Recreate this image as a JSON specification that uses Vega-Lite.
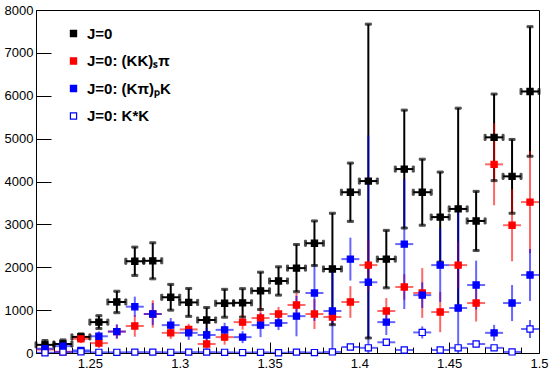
{
  "$schema": "https://vega.github.io/schema/vega-lite/v6.json",
  "width": 503,
  "height": 343,
  "autosize": {"type": "none"},
  "padding": {"left": 36, "top": 10, "right": 10, "bottom": 17},
  "background": "white",
  "config": {
    "view": {"stroke": "black", "strokeWidth": 1},
    "font": "Liberation Sans",
    "axis": {"grid": false, "domainColor": "black", "tickColor": "black", "labelColor": "black", "labelFont": "Liberation Sans", "labelFontSize": 13, "title": null},
    "axisY": {
      "values": [0,200,400,600,800,1000,1200,1400,1600,1800,2000,2200,2400,2600,2800,3000,3200,3400,3600,3800,4000,4200,4400,4600,4800,5000,5200,5400,5600,5800,6000,6200,6400,6600,6800,7000,7200,7400,7600,7800,8000],
      "format": "d",
      "labelExpr": "datum.value % 1000 === 0 ? datum.label : ''",
      "tickSize": {"condition": {"test": "datum.value % 1000 === 0", "value": -15}, "value": -8},
      "labelOverlap": false, "labelFlush": false, "labelBound": false,
      "labelPadding": 18
    },
    "legend": {"title": null, "orient": "none", "legendX": 30, "legendY": 16, "symbolType": "square", "symbolSize": 38, "symbolStrokeWidth": 1.2, "labelFont": "Liberation Sans", "labelFontWeight": "bold", "labelFontSize": 15, "labelColor": "black", "rowPadding": 11.5, "labelOffset": 6, "padding": 0, "labelLimit": 300}
  },
  "data": {"values": [
    {"s":"J=0","x":1.225,"xl":1.22,"xh":1.23,"v":190,"lo":90,"hi":290},
    {"s":"J=0","x":1.235,"xl":1.23,"xh":1.24,"v":210,"lo":115,"hi":305},
    {"s":"J=0","x":1.245,"xl":1.24,"xh":1.25,"v":375,"lo":305,"hi":445},
    {"s":"J=0","x":1.255,"xl":1.25,"xh":1.26,"v":720,"lo":570,"hi":870},
    {"s":"J=0","x":1.265,"xl":1.26,"xh":1.27,"v":1190,"lo":940,"hi":1440},
    {"s":"J=0","x":1.275,"xl":1.27,"xh":1.28,"v":2140,"lo":1810,"hi":2470},
    {"s":"J=0","x":1.285,"xl":1.28,"xh":1.29,"v":2150,"lo":1730,"hi":2570},
    {"s":"J=0","x":1.295,"xl":1.29,"xh":1.30,"v":1300,"lo":1000,"hi":1600},
    {"s":"J=0","x":1.305,"xl":1.30,"xh":1.31,"v":1180,"lo":855,"hi":1505},
    {"s":"J=0","x":1.315,"xl":1.31,"xh":1.32,"v":770,"lo":480,"hi":1060},
    {"s":"J=0","x":1.325,"xl":1.32,"xh":1.33,"v":1160,"lo":835,"hi":1485},
    {"s":"J=0","x":1.335,"xl":1.33,"xh":1.34,"v":1170,"lo":840,"hi":1500},
    {"s":"J=0","x":1.345,"xl":1.34,"xh":1.35,"v":1450,"lo":1015,"hi":1885},
    {"s":"J=0","x":1.355,"xl":1.35,"xh":1.36,"v":1680,"lo":1350,"hi":2010},
    {"s":"J=0","x":1.365,"xl":1.36,"xh":1.37,"v":1980,"lo":1430,"hi":2530},
    {"s":"J=0","x":1.375,"xl":1.37,"xh":1.38,"v":2560,"lo":2040,"hi":3080},
    {"s":"J=0","x":1.385,"xl":1.38,"xh":1.39,"v":1960,"lo":660,"hi":3260},
    {"s":"J=0","x":1.395,"xl":1.39,"xh":1.40,"v":3750,"lo":3070,"hi":4430},
    {"s":"J=0","x":1.405,"xl":1.40,"xh":1.41,"v":4010,"lo":350,"hi":7670},
    {"s":"J=0","x":1.415,"xl":1.41,"xh":1.42,"v":2190,"lo":1520,"hi":2860},
    {"s":"J=0","x":1.425,"xl":1.42,"xh":1.43,"v":4290,"lo":2915,"hi":5665},
    {"s":"J=0","x":1.435,"xl":1.43,"xh":1.44,"v":3750,"lo":2980,"hi":4520},
    {"s":"J=0","x":1.445,"xl":1.44,"xh":1.45,"v":3170,"lo":2120,"hi":4220},
    {"s":"J=0","x":1.455,"xl":1.45,"xh":1.46,"v":3360,"lo":1010,"hi":5710},
    {"s":"J=0","x":1.465,"xl":1.46,"xh":1.47,"v":3080,"lo":2390,"hi":3770},
    {"s":"J=0","x":1.475,"xl":1.47,"xh":1.48,"v":5030,"lo":4020,"hi":6040},
    {"s":"J=0","x":1.485,"xl":1.48,"xh":1.49,"v":4120,"lo":3260,"hi":4980},
    {"s":"J=0","x":1.495,"xl":1.49,"xh":1.50,"v":6100,"lo":4590,"hi":7610},

    {"s":"J=0: (KK)ₛπ","x":1.225,"xl":1.22,"xh":1.23,"v":80,"lo":40,"hi":120},
    {"s":"J=0: (KK)ₛπ","x":1.235,"xl":1.23,"xh":1.24,"v":30,"lo":0,"hi":90},
    {"s":"J=0: (KK)ₛπ","x":1.245,"xl":1.24,"xh":1.25,"v":330,"lo":230,"hi":430},
    {"s":"J=0: (KK)ₛπ","x":1.255,"xl":1.25,"xh":1.26,"v":230,"lo":115,"hi":345},
    {"s":"J=0: (KK)ₛπ","x":1.265,"xl":1.26,"xh":1.27,"v":500,"lo":335,"hi":665},
    {"s":"J=0: (KK)ₛπ","x":1.275,"xl":1.27,"xh":1.28,"v":630,"lo":380,"hi":880},
    {"s":"J=0: (KK)ₛπ","x":1.285,"xl":1.28,"xh":1.29,"v":910,"lo":590,"hi":1230},
    {"s":"J=0: (KK)ₛπ","x":1.295,"xl":1.29,"xh":1.30,"v":470,"lo":330,"hi":610},
    {"s":"J=0: (KK)ₛπ","x":1.305,"xl":1.30,"xh":1.31,"v":550,"lo":420,"hi":680},
    {"s":"J=0: (KK)ₛπ","x":1.315,"xl":1.31,"xh":1.32,"v":210,"lo":70,"hi":350},
    {"s":"J=0: (KK)ₛπ","x":1.325,"xl":1.32,"xh":1.33,"v":370,"lo":195,"hi":545},
    {"s":"J=0: (KK)ₛπ","x":1.335,"xl":1.33,"xh":1.34,"v":720,"lo":545,"hi":895},
    {"s":"J=0: (KK)ₛπ","x":1.345,"xl":1.34,"xh":1.35,"v":815,"lo":560,"hi":1070},
    {"s":"J=0: (KK)ₛπ","x":1.355,"xl":1.35,"xh":1.36,"v":910,"lo":745,"hi":1075},
    {"s":"J=0: (KK)ₛπ","x":1.365,"xl":1.36,"xh":1.37,"v":1120,"lo":840,"hi":1400},
    {"s":"J=0: (KK)ₛπ","x":1.375,"xl":1.37,"xh":1.38,"v":910,"lo":560,"hi":1260},
    {"s":"J=0: (KK)ₛπ","x":1.385,"xl":1.38,"xh":1.39,"v":840,"lo":650,"hi":1030},
    {"s":"J=0: (KK)ₛπ","x":1.395,"xl":1.39,"xh":1.40,"v":1190,"lo":820,"hi":1560},
    {"s":"J=0: (KK)ₛπ","x":1.405,"xl":1.40,"xh":1.41,"v":2050,"lo":1450,"hi":2650},
    {"s":"J=0: (KK)ₛπ","x":1.415,"xl":1.41,"xh":1.42,"v":980,"lo":680,"hi":1280},
    {"s":"J=0: (KK)ₛπ","x":1.425,"xl":1.42,"xh":1.43,"v":1540,"lo":1240,"hi":1840},
    {"s":"J=0: (KK)ₛπ","x":1.435,"xl":1.43,"xh":1.44,"v":1400,"lo":820,"hi":1980},
    {"s":"J=0: (KK)ₛπ","x":1.445,"xl":1.44,"xh":1.45,"v":955,"lo":485,"hi":1425},
    {"s":"J=0: (KK)ₛπ","x":1.455,"xl":1.45,"xh":1.46,"v":2050,"lo":1500,"hi":2600},
    {"s":"J=0: (KK)ₛπ","x":1.465,"xl":1.46,"xh":1.47,"v":1165,"lo":735,"hi":1595},
    {"s":"J=0: (KK)ₛπ","x":1.475,"xl":1.47,"xh":1.48,"v":4400,"lo":3445,"hi":5355},
    {"s":"J=0: (KK)ₛπ","x":1.485,"xl":1.48,"xh":1.49,"v":2980,"lo":2140,"hi":3820},
    {"s":"J=0: (KK)ₛπ","x":1.495,"xl":1.49,"xh":1.50,"v":3520,"lo":2330,"hi":4710},

    {"s":"J=0: (Kπ)ₚK","x":1.225,"xl":1.22,"xh":1.23,"v":100,"lo":30,"hi":170},
    {"s":"J=0: (Kπ)ₚK","x":1.235,"xl":1.23,"xh":1.24,"v":160,"lo":90,"hi":230},
    {"s":"J=0: (Kπ)ₚK","x":1.245,"xl":1.24,"xh":1.25,"v":60,"lo":0,"hi":120},
    {"s":"J=0: (Kπ)ₚK","x":1.255,"xl":1.25,"xh":1.26,"v":390,"lo":275,"hi":505},
    {"s":"J=0: (Kπ)ₚK","x":1.265,"xl":1.26,"xh":1.27,"v":500,"lo":335,"hi":665},
    {"s":"J=0: (Kπ)ₚK","x":1.275,"xl":1.27,"xh":1.28,"v":1080,"lo":845,"hi":1315},
    {"s":"J=0: (Kπ)ₚK","x":1.285,"xl":1.28,"xh":1.29,"v":910,"lo":655,"hi":1165},
    {"s":"J=0: (Kπ)ₚK","x":1.295,"xl":1.29,"xh":1.30,"v":650,"lo":485,"hi":815},
    {"s":"J=0: (Kπ)ₚK","x":1.305,"xl":1.30,"xh":1.31,"v":470,"lo":305,"hi":635},
    {"s":"J=0: (Kπ)ₚK","x":1.315,"xl":1.31,"xh":1.32,"v":420,"lo":255,"hi":585},
    {"s":"J=0: (Kπ)ₚK","x":1.325,"xl":1.32,"xh":1.33,"v":540,"lo":375,"hi":705},
    {"s":"J=0: (Kπ)ₚK","x":1.335,"xl":1.33,"xh":1.34,"v":370,"lo":230,"hi":510},
    {"s":"J=0: (Kπ)ₚK","x":1.345,"xl":1.34,"xh":1.35,"v":650,"lo":370,"hi":930},
    {"s":"J=0: (Kπ)ₚK","x":1.355,"xl":1.35,"xh":1.36,"v":700,"lo":535,"hi":865},
    {"s":"J=0: (Kπ)ₚK","x":1.365,"xl":1.36,"xh":1.37,"v":860,"lo":390,"hi":1330},
    {"s":"J=0: (Kπ)ₚK","x":1.375,"xl":1.37,"xh":1.38,"v":1400,"lo":750,"hi":2050},
    {"s":"J=0: (Kπ)ₚK","x":1.385,"xl":1.38,"xh":1.39,"v":980,"lo":0,"hi":1960},
    {"s":"J=0: (Kπ)ₚK","x":1.395,"xl":1.39,"xh":1.40,"v":2190,"lo":1690,"hi":2690},
    {"s":"J=0: (Kπ)ₚK","x":1.405,"xl":1.40,"xh":1.41,"v":1650,"lo":0,"hi":5075},
    {"s":"J=0: (Kπ)ₚK","x":1.415,"xl":1.41,"xh":1.42,"v":720,"lo":420,"hi":1020},
    {"s":"J=0: (Kπ)ₚK","x":1.425,"xl":1.42,"xh":1.43,"v":2540,"lo":1025,"hi":4055},
    {"s":"J=0: (Kπ)ₚK","x":1.435,"xl":1.43,"xh":1.44,"v":1350,"lo":1050,"hi":1650},
    {"s":"J=0: (Kπ)ₚK","x":1.445,"xl":1.44,"xh":1.45,"v":2050,"lo":1190,"hi":2910},
    {"s":"J=0: (Kπ)ₚK","x":1.455,"xl":1.45,"xh":1.46,"v":1050,"lo":0,"hi":3290},
    {"s":"J=0: (Kπ)ₚK","x":1.465,"xl":1.46,"xh":1.47,"v":1585,"lo":1015,"hi":2155},
    {"s":"J=0: (Kπ)ₚK","x":1.475,"xl":1.47,"xh":1.48,"v":470,"lo":285,"hi":655},
    {"s":"J=0: (Kπ)ₚK","x":1.485,"xl":1.48,"xh":1.49,"v":1165,"lo":745,"hi":1585},
    {"s":"J=0: (Kπ)ₚK","x":1.495,"xl":1.49,"xh":1.50,"v":1820,"lo":1215,"hi":2425},

    {"s":"J=0: K*K","x":1.225,"xl":1.22,"xh":1.23,"v":5,"lo":0,"hi":20},
    {"s":"J=0: K*K","x":1.235,"xl":1.23,"xh":1.24,"v":20,"lo":5,"hi":35},
    {"s":"J=0: K*K","x":1.245,"xl":1.24,"xh":1.25,"v":30,"lo":10,"hi":50},
    {"s":"J=0: K*K","x":1.255,"xl":1.25,"xh":1.26,"v":15,"lo":0,"hi":30},
    {"s":"J=0: K*K","x":1.265,"xl":1.26,"xh":1.27,"v":15,"lo":0,"hi":30},
    {"s":"J=0: K*K","x":1.275,"xl":1.27,"xh":1.28,"v":20,"lo":5,"hi":35},
    {"s":"J=0: K*K","x":1.285,"xl":1.28,"xh":1.29,"v":20,"lo":5,"hi":35},
    {"s":"J=0: K*K","x":1.295,"xl":1.29,"xh":1.30,"v":15,"lo":0,"hi":30},
    {"s":"J=0: K*K","x":1.305,"xl":1.30,"xh":1.31,"v":20,"lo":5,"hi":35},
    {"s":"J=0: K*K","x":1.315,"xl":1.31,"xh":1.32,"v":20,"lo":5,"hi":35},
    {"s":"J=0: K*K","x":1.325,"xl":1.32,"xh":1.33,"v":15,"lo":0,"hi":30},
    {"s":"J=0: K*K","x":1.335,"xl":1.33,"xh":1.34,"v":10,"lo":0,"hi":25},
    {"s":"J=0: K*K","x":1.345,"xl":1.34,"xh":1.35,"v":15,"lo":0,"hi":30},
    {"s":"J=0: K*K","x":1.355,"xl":1.35,"xh":1.36,"v":5,"lo":0,"hi":20},
    {"s":"J=0: K*K","x":1.365,"xl":1.36,"xh":1.37,"v":20,"lo":5,"hi":35},
    {"s":"J=0: K*K","x":1.375,"xl":1.37,"xh":1.38,"v":10,"lo":0,"hi":25},
    {"s":"J=0: K*K","x":1.385,"xl":1.38,"xh":1.39,"v":25,"lo":5,"hi":45},
    {"s":"J=0: K*K","x":1.395,"xl":1.39,"xh":1.40,"v":140,"lo":100,"hi":180},
    {"s":"J=0: K*K","x":1.405,"xl":1.40,"xh":1.41,"v":120,"lo":60,"hi":180},
    {"s":"J=0: K*K","x":1.415,"xl":1.41,"xh":1.42,"v":250,"lo":190,"hi":310},
    {"s":"J=0: K*K","x":1.425,"xl":1.42,"xh":1.43,"v":70,"lo":30,"hi":110},
    {"s":"J=0: K*K","x":1.435,"xl":1.43,"xh":1.44,"v":480,"lo":340,"hi":620},
    {"s":"J=0: K*K","x":1.445,"xl":1.44,"xh":1.45,"v":70,"lo":30,"hi":110},
    {"s":"J=0: K*K","x":1.455,"xl":1.45,"xh":1.46,"v":120,"lo":60,"hi":180},
    {"s":"J=0: K*K","x":1.465,"xl":1.46,"xh":1.47,"v":210,"lo":140,"hi":280},
    {"s":"J=0: K*K","x":1.475,"xl":1.47,"xh":1.48,"v":120,"lo":60,"hi":180},
    {"s":"J=0: K*K","x":1.485,"xl":1.48,"xh":1.49,"v":25,"lo":0,"hi":55},
    {"s":"J=0: K*K","x":1.495,"xl":1.49,"xh":1.50,"v":560,"lo":350,"hi":770}
  ]},
  "encoding": {
    "x": {"field": "x", "type": "quantitative",
      "scale": {"domain": [1.22, 1.5], "nice": false, "zero": false},
      "axis": {
        "values": [1.22,1.23,1.24,1.25,1.26,1.27,1.28,1.29,1.3,1.31,1.32,1.33,1.34,1.35,1.36,1.37,1.38,1.39,1.4,1.41,1.42,1.43,1.44,1.45,1.46,1.47,1.48,1.49,1.5],
        "format": ".2~f",
        "labelExpr": "round(datum.value*100) % 5 === 0 ? datum.label : ''",
        "tickSize": {"condition": {"test": "round(datum.value*100) % 5 === 0", "value": -11}, "value": -6},
        "labelOverlap": false, "labelFlush": false, "labelBound": false,
        "labelPadding": 15
      }
    },
    "stroke": {"field": "s", "type": "nominal",
      "scale": {"domain": ["J=0", "J=0: (KK)ₛπ", "J=0: (Kπ)ₚK", "J=0: K*K"], "range": ["black", "red", "blue", "blue"]}}
  },
  "layer": [
    {
      "mark": {"type": "rule", "clip": true, "strokeWidth": 2},
      "encoding": {
        "y": {"field": "lo", "type": "quantitative", "scale": {"domain": [0, 8000], "nice": false}},
        "y2": {"field": "hi"},
        "strokeOpacity": {"condition": {"test": "datum.s === 'J=0'", "value": 1}, "value": 0.6}
      }
    },
    {
      "mark": {"type": "rule", "clip": true, "strokeWidth": 2},
      "encoding": {
        "x": {"field": "xl", "type": "quantitative"},
        "x2": {"field": "xh"},
        "y": {"field": "v", "type": "quantitative"},
        "strokeOpacity": {"condition": {"test": "datum.s === 'J=0'", "value": 1}, "value": 0.6}
      }
    },
    {
      "transform": [{"filter": "datum.s === 'J=0'"}, {"fold": ["lo", "hi"], "as": ["end", "ev"]}],
      "mark": {"type": "tick", "orient": "horizontal", "size": 6, "thickness": 2, "color": "black", "clip": true},
      "encoding": {"y": {"field": "ev", "type": "quantitative"}, "stroke": {"value": "black"}}
    },
    {
      "transform": [{"filter": "datum.s === 'J=0'"}, {"fold": ["xl", "xh"], "as": ["end", "ex"]}],
      "mark": {"type": "tick", "orient": "vertical", "size": 6, "thickness": 2, "color": "black"},
      "encoding": {"x": {"field": "ex", "type": "quantitative"}, "y": {"field": "v", "type": "quantitative"}, "stroke": {"value": "black"}}
    },
    {
      "mark": {"type": "square", "size": 38, "opacity": 1, "strokeWidth": 1.2},
      "encoding": {
        "y": {"field": "v", "type": "quantitative"},
        "fill": {"field": "s", "type": "nominal",
          "scale": {"domain": ["J=0", "J=0: (KK)ₛπ", "J=0: (Kπ)ₚK", "J=0: K*K"], "range": ["black", "red", "blue", "white"]}}
      }
    }
  ]
}
